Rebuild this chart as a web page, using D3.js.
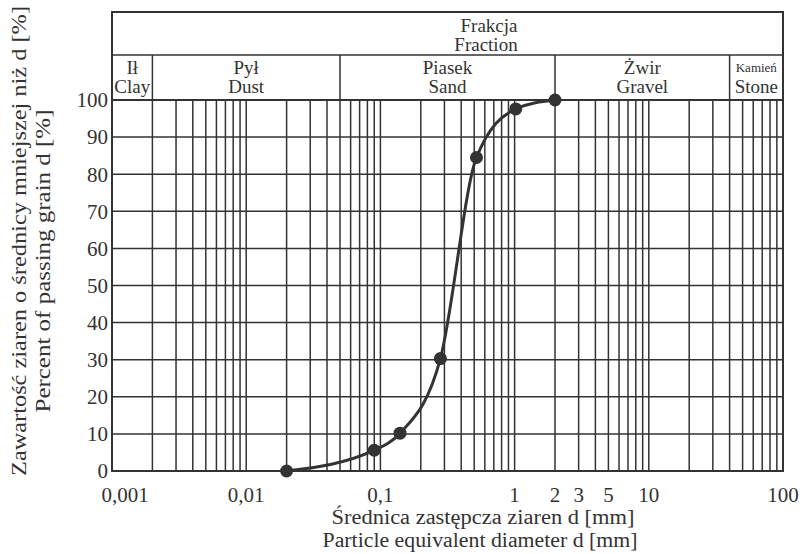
<!DOCTYPE html>
<html>
<head>
<meta charset="utf-8">
<script src="https://cdn.jsdelivr.net/npm/d3@7"></script>
<style>
  body { margin: 0; background: #fff; }
</style>
</head>
<body>
<div id="chart"></div>
<script>
// grain size data
const diameters = [0.02, 0.09, 0.14, 0.28, 0.52, 1.02, 2.0];
const percents = [0, 5.6, 10.2, 30.3, 84.5, 97.6, 100];

const xTicks = [0.001, 0.01, 0.1, 1, 2, 3, 5, 10, 100];
const xTickLabels = ['0,001', '0,01', '0,1', '1', '2', '3', '5', '10', '100'];
const yTicks = [0, 10, 20, 30, 40, 50, 60, 70, 80, 90, 100];

const fractionBounds = [0.001, 0.002, 0.05, 2, 40, 100];
const fractionPl = ['Ił', 'Pył', 'Piasek', 'Żwir', 'Kamień'];
const fractionEn = ['Clay', 'Dust', 'Sand', 'Gravel', 'Stone'];

const width = 800;
const height = 554;
const ink = '#333';

const svg = d3.select('#chart')
  .append('svg')
  .attr('width', width)
  .attr('height', height);

const x = d3.scaleLog().domain([0.001, 100]).range([112, 783]);
const y = d3.scaleLinear().domain([0, 100]).range([471, 100]);

const boxTop = 12, rowMid = 55;

// vertical log grid (1..9 in every decade)
const gridX = [];
for (let e = -3; e < 2; e++) {
  for (let m = 1; m < 10; m++) gridX.push(m * Math.pow(10, e));
}
gridX.push(100);

svg.append('g')
  .selectAll('line')
  .data(gridX)
  .enter()
  .append('line')
  .attr('x1', d => x(d)).attr('x2', d => x(d))
  .attr('y1', y(100)).attr('y2', y(0))
  .attr('stroke', ink).attr('stroke-width', 1.5);

svg.append('g')
  .selectAll('line')
  .data(yTicks)
  .enter()
  .append('line')
  .attr('x1', x(0.001)).attr('x2', x(100))
  .attr('y1', d => y(d)).attr('y2', d => y(d))
  .attr('stroke', ink).attr('stroke-width', 1.5);

// header box
svg.append('rect')
  .attr('x', x(0.001)).attr('y', boxTop)
  .attr('width', x(100) - x(0.001)).attr('height', y(0) - boxTop)
  .attr('fill', 'none').attr('stroke', ink).attr('stroke-width', 2);

svg.append('line')
  .attr('x1', x(0.001)).attr('x2', x(100))
  .attr('y1', rowMid).attr('y2', rowMid)
  .attr('stroke', ink).attr('stroke-width', 1.5);

svg.append('line')
  .attr('x1', x(0.001)).attr('x2', x(100))
  .attr('y1', y(100)).attr('y2', y(100))
  .attr('stroke', ink).attr('stroke-width', 2);

svg.append('g')
  .selectAll('line')
  .data(fractionBounds.slice(1, -1))
  .enter()
  .append('line')
  .attr('x1', d => x(d)).attr('x2', d => x(d))
  .attr('y1', rowMid).attr('y2', y(100))
  .attr('stroke', ink).attr('stroke-width', 1.5);

svg.append('text')
  .attr('x', 489).attr('y', 32)
  .attr('text-anchor', 'middle').attr('font-size', 19)
  .text('Frakcja');
svg.append('text')
  .attr('x', 486).attr('y', 51)
  .attr('text-anchor', 'middle').attr('font-size', 19)
  .text('Fraction');

const cells = fractionPl.map((p, i) => ({
  pl: p, en: fractionEn[i],
  cx: (x(fractionBounds[i]) + x(fractionBounds[i + 1])) / 2
}));

svg.append('g')
  .selectAll('text')
  .data(cells)
  .enter()
  .append('text')
  .attr('x', d => d.cx).attr('y', (d, i) => i === 4 ? 72 : 74)
  .attr('text-anchor', 'middle')
  .attr('font-size', (d, i) => i === 4 ? 13 : 19)
  .text(d => d.pl);

svg.append('g')
  .selectAll('text')
  .data(cells)
  .enter()
  .append('text')
  .attr('x', d => d.cx).attr('y', 93)
  .attr('text-anchor', 'middle')
  .attr('font-size', 19)
  .text(d => d.en);

// axes labels
svg.append('g')
  .selectAll('text')
  .data(yTicks)
  .enter()
  .append('text')
  .attr('x', 108).attr('y', d => y(d))
  .attr('dy', '0.35em')
  .attr('text-anchor', 'end').attr('font-size', 21)
  .text(d => d);

svg.append('g')
  .selectAll('text')
  .data(xTicks)
  .enter()
  .append('text')
  .attr('x', (d, i) => x(d) + (i === 0 ? 13 : 0)).attr('y', 502)
  .attr('text-anchor', 'middle').attr('font-size', 21)
  .text((d, i) => xTickLabels[i]);

// titles, stretched to the reference widths
const titles = [
  { t: 'Średnica zastępcza ziaren d [mm]', tr: 'translate(483, 524)', len: 303 },
  { t: 'Particle equivalent diameter d [mm]', tr: 'translate(480, 547)', len: 315 },
  { t: 'Zawartość ziaren o średnicy mniejszej niż d [%]', tr: 'translate(26, 241) rotate(-90)', len: 470 },
  { t: 'Percent of passing grain d [%]', tr: 'translate(50, 261) rotate(-90)', len: 303 }
];

svg.append('g')
  .selectAll('text')
  .data(titles)
  .enter()
  .append('text')
  .attr('transform', d => d.tr)
  .attr('text-anchor', 'middle').attr('font-size', 20)
  .attr('textLength', d => d.len)
  .attr('lengthAdjust', 'spacingAndGlyphs')
  .text(d => d.t);

// grading curve
const pts = diameters.map((d, i) => [d, percents[i]]);
const line = d3.line()
  .x(d => x(d[0]))
  .y(d => y(d[1]))
  .curve(d3.curveMonotoneX);

svg.append('path')
  .datum(pts)
  .attr('d', line)
  .attr('fill', 'none')
  .attr('stroke', ink)
  .attr('stroke-width', 3);

svg.append('g')
  .selectAll('circle')
  .data(pts)
  .enter()
  .append('circle')
  .attr('cx', d => x(d[0]))
  .attr('cy', d => y(d[1]))
  .attr('r', 6.5)
  .attr('fill', ink);

// serif font on every label
svg.selectAll('text')
  .style('font-family', '"Liberation Serif", serif')
  .attr('fill', ink);
</script>
</body>
</html>
